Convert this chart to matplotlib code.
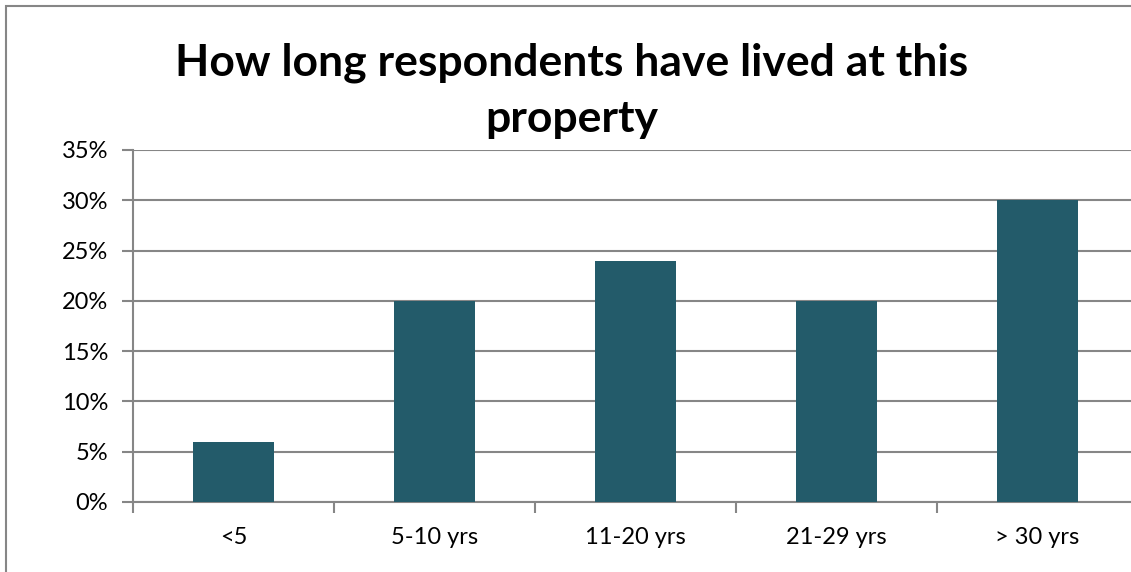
import matplotlib
matplotlib.use("Agg")
import matplotlib.pyplot as plt
from matplotlib.patches import Rectangle
from matplotlib.ticker import FuncFormatter, MultipleLocator

categories = ["<5", "5-10 yrs", "11-20 yrs", "21-29 yrs", "> 30 yrs"]
shares = [6, 20, 24, 20, 30]

plt.rcParams['font.family'] = ['Lato', 'DejaVu Sans']

W, H = 1131, 572
fig = plt.figure(figsize=(W / 100, H / 100), dpi=100)
grey = "#868686"

# outer chart frame (right and bottom edges are cut off in the original)
fig.patches.append(Rectangle((6 / W, -0.1), 1.1, 1 - 6 / H + 0.1, transform=fig.transFigure,
                             fill=False, edgecolor=grey, lw=1.5))

ax = fig.add_axes([133 / W, 1 - 502 / H, (1138 - 133) / W, (502 - 150) / H])
x = range(len(categories))
ax.bar(x, shares, width=0.4, color="#235B6A", zorder=3)

ax.set_xlim(-0.5, len(categories) - 0.5)
ax.set_ylim(0, 35)
ax.yaxis.set_major_locator(MultipleLocator(5))
ax.yaxis.set_major_formatter(FuncFormatter(lambda v, p: f"{v:.0f}%"))
ax.set_xticks(list(x))
ax.set_xticklabels(categories)
ax.set_xticks([i - 0.5 for i in range(len(categories) + 1)], minor=True)

ax.grid(axis="y", color=grey, lw=1.5, zorder=0)
for s in ["top", "right"]:
    ax.spines[s].set_visible(False)
for s in ["left", "bottom"]:
    ax.spines[s].set_color(grey)
    ax.spines[s].set_linewidth(1.5)

ax.tick_params(axis="y", length=8, width=1.5, color=grey, labelsize=17, pad=10)
ax.tick_params(axis="x", which="major", length=0, labelsize=17, pad=18)
ax.tick_params(axis="x", which="minor", length=8, width=1.5, color=grey)

fig.text(572 / W, 1 - 91 / H, "How long respondents have lived at this\nproperty",
         ha="center", va="center", fontsize=32, fontweight="bold", linespacing=1.48)

fig.savefig("out.png", dpi=100)
